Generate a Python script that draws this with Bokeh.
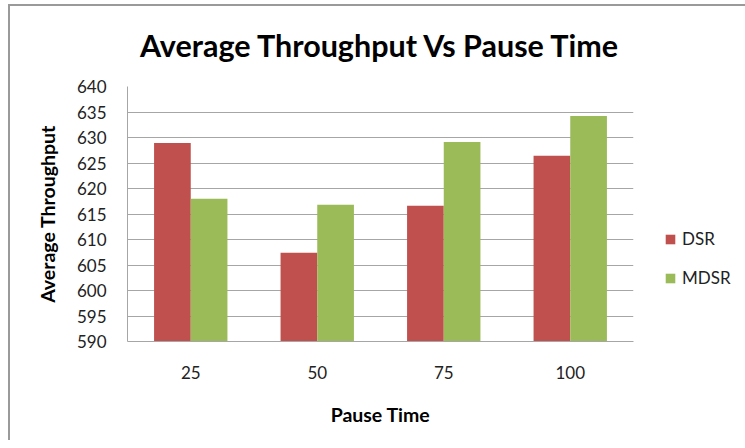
from bokeh.plotting import figure
from bokeh.models import Range1d, FactorRange, FixedTicker, Legend, LegendItem, ColumnDataSource
from bokeh.transform import dodge
from bokeh.embed import file_html
from bokeh.resources import INLINE

pause_times = ["25", "50", "75", "100"]
dsr = [628.9, 607.4, 616.6, 626.4]
mdsr = [618.0, 616.8, 629.1, 634.2]
y_ticks = [590, 595, 600, 605, 610, 615, 620, 625, 630, 635, 640]

src = ColumnDataSource(data=dict(pause=pause_times, dsr=dsr, mdsr=mdsr))

FONT = "Lato"

p = figure(frame_width=506, frame_height=255, output_backend="svg", toolbar_location=None,
           x_range=FactorRange(*pause_times), y_range=Range1d(590, 640),
           min_border_left=127, min_border_right=104, min_border_top=86, min_border_bottom=99,
           title="Average Throughput Vs Pause Time")
p.title.text_font = FONT
p.title.text_font_style = "bold"
p.title.text_font_size = "30.5px"
p.title.align = "center"
p.title.text_color = "#000000"
p.title.text_line_height = 0.7
p.title.vertical_align = "top"
p.title.standoff = 43

r1 = p.vbar(x=dodge("pause", -0.145, range=p.x_range), top="dsr", bottom=590, width=0.29,
            source=src, fill_color="#C0504D", line_color=None)
r2 = p.vbar(x=dodge("pause", 0.145, range=p.x_range), top="mdsr", bottom=590, width=0.29,
            source=src, fill_color="#9BBB59", line_color=None)

p.outline_line_color = None
p.border_fill_color = None
p.background_fill_color = "white"
p.styles = {
    "background": "linear-gradient(#9a9a9a, #9a9a9a) 8px 4px / 2px 100% no-repeat, "
                  "linear-gradient(#9a9a9a, #9a9a9a) 8px 4px / 100% 2px no-repeat, white",
}
p.xgrid.grid_line_color = None
p.ygrid.grid_line_color = "#A6A6A6"
p.ygrid.grid_line_width = 1
p.yaxis.ticker = FixedTicker(ticks=y_ticks)

for ax in (p.xaxis[0], p.yaxis[0]):
    ax.axis_line_color = "#A6A6A6"
    ax.major_tick_line_color = None
    ax.minor_tick_line_color = None
    ax.major_tick_out = 0
    ax.major_tick_in = 0
    ax.major_label_text_font = FONT
    ax.major_label_text_font_size = "17px"
    ax.major_label_text_color = "#222222"
    ax.axis_label_text_font = FONT
    ax.axis_label_text_font_style = "bold"
    ax.axis_label_text_font_size = "19.5px"
    ax.axis_label_text_color = "#000000"

p.yaxis.axis_label = "Average Throughput"
p.xaxis.axis_label = "Pause Time"
p.yaxis.major_label_standoff = 21
p.yaxis.axis_label_standoff = 15
p.xaxis.major_label_standoff = 24
p.xaxis.axis_label_standoff = 21

legend = Legend(items=[LegendItem(label="DSR", renderers=[r1]),
                       LegendItem(label="MDSR", renderers=[r2])],
                location=(31, 53), border_line_color=None, background_fill_alpha=0,
                padding=0, margin=0,
                label_text_font=FONT, label_text_font_size="17px", label_text_color="#222222",
                glyph_width=12, glyph_height=12, label_height=20, spacing=18, label_standoff=6)
p.add_layout(legend, "right")

open("out.html", "w").write(file_html(p, INLINE))
